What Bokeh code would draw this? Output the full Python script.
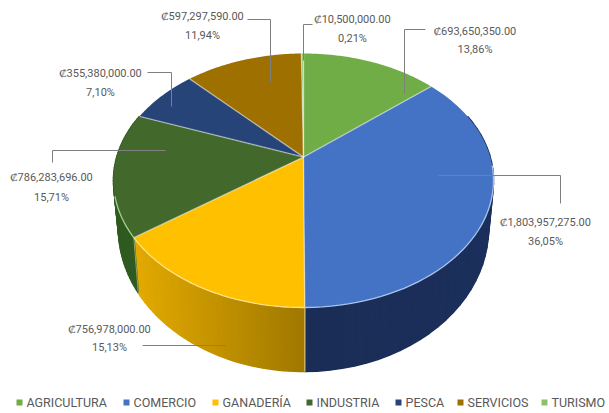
import numpy as np
from bokeh.plotting import figure
from bokeh.models import Range1d
from bokeh.core.properties import value
from bokeh.embed import file_html
from bokeh.resources import INLINE

categories = ["AGRICULTURA", "COMERCIO", "GANADERÍA", "INDUSTRIA", "PESCA", "SERVICIOS", "TURISMO"]
amounts = [693650350.00, 1803957275.00, 756978000.00, 786283696.00, 355380000.00, 597297590.00, 10500000.00]
percents = ["13,86%", "36,05%", "15,13%", "15,71%", "7,10%", "11,94%", "0,21%"]
face_colors = ["#70ad47", "#4472c4", "#ffc000", "#43682b", "#264478", "#9e7000", "#8cc168"]
wall_left = ["#5a8a39", "#1a2d55", "#e4ab00", "#2f5a20", "#1b3055", "#7a5700", "#6d9a50"]
wall_right = ["#5a8a39", "#1b2f5c", "#a17900", "#2f5a20", "#1b3055", "#7a5700", "#6d9a50"]
rim_colors = ["#a9d18e", "#a9c4ec", "#ffe28a", "#a9d18e", "#8faadc", "#d6b656", "#c5e0b4"]

FONT = "Roboto"
GREY = "#595959"
CX, CY, RX, RY, K = 303, 180, 190, 127, 0.83
BX, BY, BRX, BRY = 303, 228, 185, 143


def persp(theta):
    """True pie angle to projected ellipse angle (perspective tilt)."""
    theta = np.asarray(theta, dtype=float)
    return 2 * np.arctan2(K * np.sin(theta / 2), np.cos(theta / 2))


def top_pt(phi):
    return CX + RX * np.sin(phi), CY - RY * np.cos(phi)


def low_pt(phi):
    return BX + BRX * np.sin(phi), BY - BRY * np.cos(phi)


def hex2rgb(c):
    return np.array([int(c[i:i + 2], 16) for i in (1, 3, 5)], dtype=float)


def mix(a, b, t):
    r = hex2rgb(a) * (1 - t) + hex2rgb(b) * t
    return "#%02x%02x%02x" % tuple(int(round(v)) for v in r)


p = figure(width=609, height=413, output_backend="svg", toolbar_location=None,
           x_range=Range1d(0, 609), y_range=Range1d(413, 0),
           min_border=0, outline_line_color=None, background_fill_color="white")
p.xaxis.visible = False
p.yaxis.visible = False
p.xgrid.visible = False
p.ygrid.visible = False

total = sum(amounts)
edges = 2 * np.pi * np.concatenate([[0], np.cumsum(amounts)]) / total
apex_x, apex_y = top_pt(float(persp(np.pi / 2)))
apex_x = CX

# side wall, front half only: strips so that the shading can vary
for i in range(len(amounts)):
    a0, a1 = edges[i], edges[i + 1]
    ph = persp(np.linspace(a0, a1, 41))
    ph = np.where(ph < 0, ph + 2 * np.pi, ph)
    keep_xs, keep_ys, keep_c = [], [], []
    for j in range(len(ph) - 1):
        m = (ph[j] + ph[j + 1]) / 2
        if m < np.pi / 3 or m > 5 * np.pi / 3:
            continue
        x0, y0 = top_pt(ph[j]); x1, y1 = top_pt(ph[j + 1])
        x2, y2 = low_pt(ph[j + 1]); x3, y3 = low_pt(ph[j])
        keep_xs.append([x0, x1, x2, x3])
        keep_ys.append([y0, y1, y2, y3])
        keep_c.append(mix(wall_left[i], wall_right[i], np.clip((x0 - 130) / (303 - 130), 0, 1)
                          if i == 2 else np.clip((x0 - 303) / 190, 0, 1)))
    if keep_xs:
        p.patches(keep_xs, keep_ys, fill_color=keep_c, line_color=keep_c, line_width=1.6)

# top face
for i in range(len(amounts)):
    ph = persp(np.linspace(edges[i], edges[i + 1], 80))
    ph = np.where(ph < -1e-9, ph + 2 * np.pi, ph)
    if i == len(amounts) - 1:
        ph[-1] = 2 * np.pi
    xs, ys = top_pt(ph)
    p.patch([apex_x, *xs], [apex_y, *ys], fill_color=face_colors[i], line_color=None)

# slice separators and front rim highlight
for i in range(len(amounts)):
    ph = float(persp(edges[i]))
    x, y = top_pt(ph)
    p.line([apex_x, x], [apex_y, y], line_color="#ffffff", line_alpha=0.45, line_width=1.4)
    ph = persp(np.linspace(edges[i], edges[i + 1], 60))
    ph = np.where(ph < -1e-9, ph + 2 * np.pi, ph)
    mask = (ph > np.pi / 2.2) & (ph < 3 * np.pi / 2.05)
    if mask.sum() > 1:
        xs, ys = top_pt(ph[mask])
        p.line(xs, ys, line_color=rim_colors[i], line_width=1.3)

# seams on the wall
sx0, sy0 = top_pt(float(persp(edges[2])))
sx1, sy1 = low_pt(float(persp(edges[2])))
p.line([sx0, sx1], [sy0, sy1], line_color="#d8c27a", line_width=1)
sx0, sy0 = top_pt(float(persp(edges[3])) + 2 * np.pi)
sx1, sy1 = low_pt(float(persp(edges[3])) + 2 * np.pi)
p.line([sx0, sx1], [sy0, sy1], line_color="#e9d28a", line_alpha=0.6, line_width=1)

# leader lines: one per category
leaders_x = [[425, 404, 404], [438, 560, 560], [142, 226], [52, 52, 165],
             [147, 171, 171], [247, 270, 270], [312, 303, 303]]
leaders_y = [[29, 29, 93], [175, 175, 203], [345, 345], [162, 150, 150],
             [72, 72, 106], [19, 19, 82], [24, 24, 60]]
for lx, ly in zip(leaders_x, leaders_y):
    p.line(lx, ly, line_color="#7f7f7f", line_width=1)

# data labels
label_x = [474.5, 545, 109, 51, 100, 202, 352]
label_y1 = [31, 222, 329, 177, 73, 16, 19]
label_y2 = [49, 241, 347, 197, 92, 35, 38]
for i, v in enumerate(amounts):
    p.text([label_x[i]], [label_y1[i]], text=[f"₡{v:,.2f}"], text_font=value(FONT),
           text_font_size="11px", text_color=GREY, text_align="center", text_baseline="middle")
    p.text([label_x[i]], [label_y2[i]], text=[percents[i]], text_font=value(FONT),
           text_font_size="11px", text_color=GREY, text_align="center", text_baseline="middle")

# legend
legend_x = [19, 126, 215, 309, 398, 460, 544]
legend_y = 402
for i, name in enumerate(categories):
    p.scatter([legend_x[i]], [legend_y], marker="square", size=6,
              fill_color=face_colors[i], line_color=None)
    p.text([legend_x[i] + 7], [legend_y], text=[name], text_font=value(FONT),
           text_font_size="12.5px", text_color=GREY, text_align="left", text_baseline="middle")

open("out.html", "w").write(file_html(p, INLINE))
